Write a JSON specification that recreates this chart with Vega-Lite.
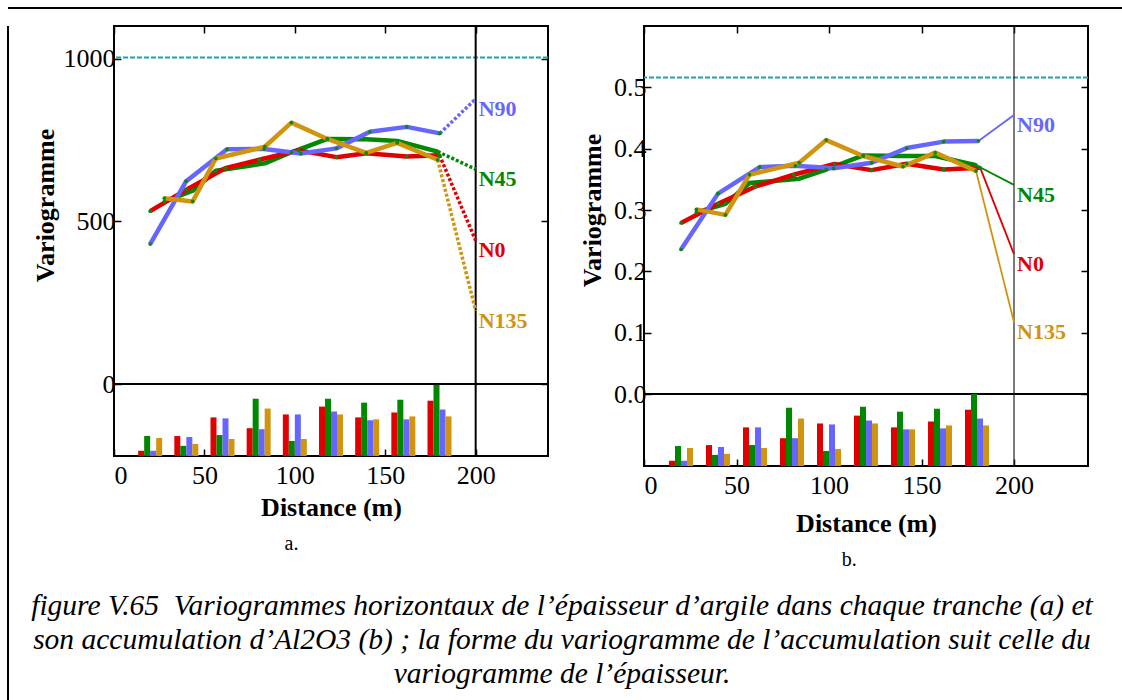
{
  "$schema": "https://vega.github.io/schema/vega-lite/v6.json",
  "padding": {"left": 7, "top": 7, "right": 0, "bottom": 0},
  "background": "white",
  "config": {
    "view": {"stroke": "black", "strokeWidth": 2},
    "font": "Liberation Serif",
    "axis": {
      "labelFont": "Liberation Serif", "labelFontSize": 26, "labelColor": "black",
      "titleFont": "Liberation Serif", "titleFontSize": 26, "titleFontWeight": "bold", "titleColor": "black",
      "grid": false, "domain": false, "tickColor": "black", "tickWidth": 1.5
    },
    "title": {"font": "Liberation Serif", "fontSize": 20, "fontWeight": "normal", "color": "black"}
  },
  "datasets": {
    "a_lines": [
      {"dir": "N45", "dist": 27.8, "g": 560}, {"dir": "N45", "dist": 43.5, "g": 594}, {"dir": "N45", "dist": 56.3, "g": 655},
      {"dir": "N45", "dist": 83.4, "g": 678}, {"dir": "N45", "dist": 98.1, "g": 712}, {"dir": "N45", "dist": 118, "g": 753},
      {"dir": "N45", "dist": 139.5, "g": 752}, {"dir": "N45", "dist": 156.6, "g": 747}, {"dir": "N45", "dist": 179, "g": 714},
      {"dir": "N0", "dist": 20, "g": 531}, {"dir": "N0", "dist": 40, "g": 597}, {"dir": "N0", "dist": 61.5, "g": 663},
      {"dir": "N0", "dist": 80.3, "g": 689}, {"dir": "N0", "dist": 102, "g": 718}, {"dir": "N0", "dist": 123, "g": 697},
      {"dir": "N0", "dist": 139.5, "g": 709}, {"dir": "N0", "dist": 161.8, "g": 699}, {"dir": "N0", "dist": 180, "g": 703},
      {"dir": "N90", "dist": 20, "g": 430}, {"dir": "N90", "dist": 39.9, "g": 623}, {"dir": "N90", "dist": 62.5, "g": 721},
      {"dir": "N90", "dist": 83, "g": 722}, {"dir": "N90", "dist": 103.3, "g": 708}, {"dir": "N90", "dist": 123, "g": 724},
      {"dir": "N90", "dist": 141.5, "g": 775}, {"dir": "N90", "dist": 161.9, "g": 790}, {"dir": "N90", "dist": 180.2, "g": 770},
      {"dir": "N135", "dist": 27.8, "g": 571}, {"dir": "N135", "dist": 43.5, "g": 561}, {"dir": "N135", "dist": 56.3, "g": 693},
      {"dir": "N135", "dist": 83.4, "g": 729}, {"dir": "N135", "dist": 98.1, "g": 803}, {"dir": "N135", "dist": 118, "g": 753},
      {"dir": "N135", "dist": 139.5, "g": 710}, {"dir": "N135", "dist": 156.6, "g": 741}, {"dir": "N135", "dist": 179, "g": 689}
    ],
    "a_ext": [
      {"dir": "N45", "dist": 179, "g": 714}, {"dir": "N45", "dist": 200, "g": 660},
      {"dir": "N0", "dist": 180, "g": 703}, {"dir": "N0", "dist": 200, "g": 441},
      {"dir": "N90", "dist": 180.2, "g": 770}, {"dir": "N90", "dist": 200, "g": 876},
      {"dir": "N135", "dist": 179, "g": 689}, {"dir": "N135", "dist": 200, "g": 225}
    ],
    "a_hist": [
      {"lag": 20, "N0": 16, "N45": 61, "N90": 16, "N135": 55},
      {"lag": 40, "N0": 61, "N45": 31, "N90": 58, "N135": 37},
      {"lag": 60, "N0": 118, "N45": 64, "N90": 115, "N135": 52},
      {"lag": 80, "N0": 85, "N45": 175, "N90": 82, "N135": 145},
      {"lag": 100, "N0": 127, "N45": 46, "N90": 127, "N135": 52},
      {"lag": 120, "N0": 151, "N45": 175, "N90": 136, "N135": 127},
      {"lag": 140, "N0": 118, "N45": 163, "N90": 109, "N135": 112},
      {"lag": 160, "N0": 133, "N45": 172, "N90": 112, "N135": 121},
      {"lag": 180, "N0": 169, "N45": 217, "N90": 142, "N135": 121}
    ],
    "b_lines": [
      {"dir": "N45", "dist": 28.3, "g": 0.296}, {"dir": "N45", "dist": 44, "g": 0.31}, {"dir": "N45", "dist": 57, "g": 0.344},
      {"dir": "N45", "dist": 83.9, "g": 0.351}, {"dir": "N45", "dist": 98.5, "g": 0.366}, {"dir": "N45", "dist": 118.5, "g": 0.389},
      {"dir": "N45", "dist": 140, "g": 0.388}, {"dir": "N45", "dist": 157.4, "g": 0.388}, {"dir": "N45", "dist": 179.5, "g": 0.373},
      {"dir": "N0", "dist": 20, "g": 0.279}, {"dir": "N0", "dist": 40, "g": 0.31}, {"dir": "N0", "dist": 60, "g": 0.338},
      {"dir": "N0", "dist": 80.9, "g": 0.3575}, {"dir": "N0", "dist": 103, "g": 0.375}, {"dir": "N0", "dist": 123, "g": 0.365},
      {"dir": "N0", "dist": 142, "g": 0.3755}, {"dir": "N0", "dist": 162, "g": 0.366}, {"dir": "N0", "dist": 181.7, "g": 0.369},
      {"dir": "N90", "dist": 20, "g": 0.2356}, {"dir": "N90", "dist": 40, "g": 0.3267}, {"dir": "N90", "dist": 62.5, "g": 0.37},
      {"dir": "N90", "dist": 81.8, "g": 0.372}, {"dir": "N90", "dist": 102.5, "g": 0.368}, {"dir": "N90", "dist": 123, "g": 0.377},
      {"dir": "N90", "dist": 142, "g": 0.401}, {"dir": "N90", "dist": 162, "g": 0.4115}, {"dir": "N90", "dist": 180.8, "g": 0.4125},
      {"dir": "N135", "dist": 28.3, "g": 0.301}, {"dir": "N135", "dist": 44, "g": 0.292}, {"dir": "N135", "dist": 57, "g": 0.3575},
      {"dir": "N135", "dist": 83.9, "g": 0.377}, {"dir": "N135", "dist": 98.5, "g": 0.414}, {"dir": "N135", "dist": 118.5, "g": 0.388},
      {"dir": "N135", "dist": 140, "g": 0.371}, {"dir": "N135", "dist": 157.4, "g": 0.3935}, {"dir": "N135", "dist": 179.5, "g": 0.3637}
    ],
    "b_ext": [
      {"dir": "N45", "dist": 179.5, "g": 0.373}, {"dir": "N45", "dist": 200, "g": 0.341},
      {"dir": "N0", "dist": 181.7, "g": 0.369}, {"dir": "N0", "dist": 200, "g": 0.228},
      {"dir": "N90", "dist": 180.8, "g": 0.4125}, {"dir": "N90", "dist": 200, "g": 0.455},
      {"dir": "N135", "dist": 179.5, "g": 0.3637}, {"dir": "N135", "dist": 200, "g": 0.117}
    ],
    "b_hist": [
      {"lag": 20, "N0": 16, "N45": 61, "N90": 16, "N135": 55},
      {"lag": 40, "N0": 64, "N45": 34, "N90": 58, "N135": 37},
      {"lag": 60, "N0": 118, "N45": 64, "N90": 118, "N135": 55},
      {"lag": 80, "N0": 85, "N45": 178, "N90": 85, "N135": 145},
      {"lag": 100, "N0": 130, "N45": 46, "N90": 127, "N135": 52},
      {"lag": 120, "N0": 154, "N45": 181, "N90": 139, "N135": 130},
      {"lag": 140, "N0": 118, "N45": 166, "N90": 112, "N135": 112},
      {"lag": 160, "N0": 136, "N45": 175, "N90": 115, "N135": 124},
      {"lag": 180, "N0": 172, "N45": 220, "N90": 145, "N135": 124}
    ]
  },
  "vconcat": [
    {
      "width": 1115, "height": 16, "view": {"stroke": null},
      "data": {"values": [{}]},
      "mark": {"type": "rule", "color": "black", "strokeWidth": 2},
      "encoding": {"y": {"datum": 1, "type": "quantitative", "scale": {"domain": [0, 1]}, "axis": null}}
    },
    {
      "hconcat": [
        {
          "width": 23, "height": 680, "view": {"stroke": null},
          "data": {"values": [{}]},
          "mark": {"type": "rule", "color": "black", "strokeWidth": 2},
          "encoding": {"x": {"datum": 0, "type": "quantitative", "scale": {"domain": [0, 1]}, "axis": null}}
        },
        {
          "vconcat": [
            {
              "hconcat": [
                {
                  "title": {"text": "a.", "orient": "bottom", "anchor": "middle", "offset": 13, "dx": 1},
                  "spacing": 0,
                  "bounds": "flush",
                  "vconcat": [
                    {
                      "width": 434, "height": 358,
                      "resolve": {"axis": {"y": "independent"}},
                      "layer": [
                        {
                          "layer": [
                            {
                              "data": {"values": [{}]},
                              "mark": {"type": "rule", "color": "#1aa3a8", "strokeWidth": 2, "strokeDash": [5, 2]},
                              "encoding": {"y": {"datum": 1003, "type": "quantitative"}}
                            },
                            {
                              "data": {"values": [{}]},
                              "mark": {"type": "rule", "color": "black", "strokeWidth": 2},
                              "encoding": {"x": {"datum": 200, "type": "quantitative"}}
                            },
                            {
                              "data": {"name": "a_lines"},
                              "mark": {"type": "line", "strokeWidth": 4.5, "strokeJoin": "round"},
                              "encoding": {
                                "x": {"field": "dist", "type": "quantitative", "scale": {"domain": [0, 240]},
                                      "axis": {"orient": "top", "values": [0, 50, 100, 150, 200], "labels": false, "tickSize": -7, "title": null}},
                                "y": {"field": "g", "type": "quantitative", "scale": {"domain": [0, 1100]},
                                      "axis": {"values": [0, 500, 1000], "format": "d", "tickSize": -7, "labelPadding": 6, "title": "Variogramme", "titlePadding": 5}},
                                "color": {"field": "dir", "type": "nominal", "legend": null,
                                          "scale": {"domain": ["N0", "N45", "N90", "N135"], "range": ["#e00000", "#008800", "#6666ff", "#d0940f"]}}
                              }
                            },
                            {
                              "data": {"name": "a_ext"},
                              "mark": {"type": "line", "strokeWidth": 3.5, "strokeDash": [3, 2]},
                              "encoding": {
                                "x": {"field": "dist", "type": "quantitative"},
                                "y": {"field": "g", "type": "quantitative"},
                                "color": {"field": "dir", "type": "nominal", "legend": null}
                              }
                            },
                            {
                              "data": {"name": "a_lines"},
                              "mark": {"type": "circle", "size": 14, "color": "#0a8a0a", "opacity": 1},
                              "encoding": {
                                "x": {"field": "dist", "type": "quantitative"},
                                "y": {"field": "g", "type": "quantitative"}
                              }
                            },
                            {
                              "data": {"name": "a_ext"},
                              "transform": [{"filter": "datum.dist == 200"}],
                              "mark": {"type": "text", "align": "left", "baseline": "middle", "dx": 3, "dy": 10, "fontSize": 22, "fontWeight": "bold", "font": "Liberation Serif"},
                              "encoding": {
                                "x": {"field": "dist", "type": "quantitative"},
                                "y": {"field": "g", "type": "quantitative"},
                                "text": {"field": "dir"},
                                "color": {"field": "dir", "type": "nominal", "legend": null}
                              }
                            }
                          ]
                        },
                        {
                          "data": {"values": []},
                          "mark": "point",
                          "encoding": {"y": {"field": "g", "type": "quantitative",
                            "axis": {"orient": "right", "values": [0, 500, 1000], "labels": false, "tickSize": -7, "title": null}}}
                        }
                      ]
                    },
                    {
                      "width": 434, "height": 72,
                      "data": {"name": "a_hist"},
                      "layer": [
                        {
                          "mark": {"type": "bar", "orient": "vertical", "width": 6, "xOffset": -9, "color": "#e00000"},
                          "encoding": {
                            "x": {"field": "lag", "type": "quantitative", "scale": {"domain": [0, 240], "padding": 0, "nice": false},
                                  "axis": {"values": [0, 50, 100, 150, 200], "tickSize": -7, "labelPadding": 13, "title": "Distance (m)", "titlePadding": 6}},
                            "y": {"field": "N0", "type": "quantitative", "scale": {"domain": [0, 217]}, "axis": null}
                          }
                        },
                        {
                          "mark": {"type": "bar", "orient": "vertical", "width": 6, "xOffset": -3, "color": "#008800"},
                          "encoding": {"x": {"field": "lag", "type": "quantitative"}, "y": {"field": "N45", "type": "quantitative", "axis": null}}
                        },
                        {
                          "mark": {"type": "bar", "orient": "vertical", "width": 6, "xOffset": 3, "color": "#6666ff"},
                          "encoding": {"x": {"field": "lag", "type": "quantitative"}, "y": {"field": "N90", "type": "quantitative", "axis": null}}
                        },
                        {
                          "mark": {"type": "bar", "orient": "vertical", "width": 6, "xOffset": 9, "color": "#d0940f"},
                          "encoding": {"x": {"field": "lag", "type": "quantitative"}, "y": {"field": "N135", "type": "quantitative", "axis": null}}
                        },
                        {
                          "data": {"values": [{}]},
                          "mark": {"type": "rule", "color": "black", "strokeWidth": 2},
                          "encoding": {"x": {"datum": 200, "type": "quantitative"}}
                        }
                      ]
                    }
                  ]
                },
                {
                  "title": {"text": "b.", "orient": "bottom", "anchor": "middle", "offset": 13, "dx": 15},
                  "spacing": 0,
                  "bounds": "flush",
                  "vconcat": [
                    {
                      "width": 444, "height": 368,
                      "resolve": {"axis": {"y": "independent"}},
                      "layer": [
                        {
                          "layer": [
                            {
                              "data": {"values": [{}]},
                              "mark": {"type": "rule", "color": "#1aa3a8", "strokeWidth": 2, "strokeDash": [5, 2]},
                              "encoding": {"y": {"datum": 0.516, "type": "quantitative"}}
                            },
                            {
                              "data": {"values": [{}]},
                              "mark": {"type": "rule", "color": "#222222", "strokeWidth": 1.2},
                              "encoding": {"x": {"datum": 200, "type": "quantitative"}}
                            },
                            {
                              "data": {"name": "b_lines"},
                              "mark": {"type": "line", "strokeWidth": 4.5, "strokeJoin": "round"},
                              "encoding": {
                                "x": {"field": "dist", "type": "quantitative", "scale": {"domain": [0, 240]},
                                      "axis": {"orient": "top", "values": [0, 50, 100, 150, 200], "labels": false, "tickSize": -7, "title": null}},
                                "y": {"field": "g", "type": "quantitative", "scale": {"domain": [0, 0.566]},
                                      "axis": {"values": [0, 0.1, 0.2, 0.3, 0.4, 0.5], "format": ".1f", "tickSize": -7, "labelPadding": 5, "title": "Variogramme", "titlePadding": 8}},
                                "color": {"field": "dir", "type": "nominal", "legend": null,
                                          "scale": {"domain": ["N0", "N45", "N90", "N135"], "range": ["#e00000", "#008800", "#6666ff", "#d0940f"]}}
                              }
                            },
                            {
                              "data": {"name": "b_ext"},
                              "mark": {"type": "line", "strokeWidth": 1.8},
                              "encoding": {
                                "x": {"field": "dist", "type": "quantitative"},
                                "y": {"field": "g", "type": "quantitative"},
                                "color": {"field": "dir", "type": "nominal", "legend": null}
                              }
                            },
                            {
                              "data": {"name": "b_lines"},
                              "mark": {"type": "circle", "size": 14, "color": "#0a8a0a", "opacity": 1},
                              "encoding": {
                                "x": {"field": "dist", "type": "quantitative"},
                                "y": {"field": "g", "type": "quantitative"}
                              }
                            },
                            {
                              "data": {"name": "b_ext"},
                              "transform": [{"filter": "datum.dist == 200"}],
                              "mark": {"type": "text", "align": "left", "baseline": "middle", "dx": 3, "dy": 10, "fontSize": 22, "fontWeight": "bold", "font": "Liberation Serif"},
                              "encoding": {
                                "x": {"field": "dist", "type": "quantitative"},
                                "y": {"field": "g", "type": "quantitative"},
                                "text": {"field": "dir"},
                                "color": {"field": "dir", "type": "nominal", "legend": null}
                              }
                            }
                          ]
                        },
                        {
                          "data": {"values": []},
                          "mark": "point",
                          "encoding": {"y": {"field": "g", "type": "quantitative",
                            "axis": {"orient": "right", "values": [0, 0.1, 0.2, 0.3, 0.4, 0.5], "labels": false, "tickSize": -7, "title": null}}}
                        }
                      ]
                    },
                    {
                      "width": 444, "height": 72,
                      "data": {"name": "b_hist"},
                      "layer": [
                        {
                          "mark": {"type": "bar", "orient": "vertical", "width": 6, "xOffset": -9, "color": "#e00000"},
                          "encoding": {
                            "x": {"field": "lag", "type": "quantitative", "scale": {"domain": [0, 240], "padding": 0, "nice": false},
                                  "axis": {"values": [0, 50, 100, 150, 200], "tickSize": -7, "labelPadding": 13, "title": "Distance (m)", "titlePadding": 12}},
                            "y": {"field": "N0", "type": "quantitative", "scale": {"domain": [0, 220]}, "axis": null}
                          }
                        },
                        {
                          "mark": {"type": "bar", "orient": "vertical", "width": 6, "xOffset": -3, "color": "#008800"},
                          "encoding": {"x": {"field": "lag", "type": "quantitative"}, "y": {"field": "N45", "type": "quantitative", "axis": null}}
                        },
                        {
                          "mark": {"type": "bar", "orient": "vertical", "width": 6, "xOffset": 3, "color": "#6666ff"},
                          "encoding": {"x": {"field": "lag", "type": "quantitative"}, "y": {"field": "N90", "type": "quantitative", "axis": null}}
                        },
                        {
                          "mark": {"type": "bar", "orient": "vertical", "width": 6, "xOffset": 9, "color": "#d0940f"},
                          "encoding": {"x": {"field": "lag", "type": "quantitative"}, "y": {"field": "N135", "type": "quantitative", "axis": null}}
                        },
                        {
                          "data": {"values": [{}]},
                          "mark": {"type": "rule", "color": "#222222", "strokeWidth": 1.2},
                          "encoding": {"x": {"datum": 200, "type": "quantitative"}}
                        }
                      ]
                    }
                  ]
                }
              ],
              "spacing": 28
            },
            {
              "width": 896, "height": 102, "view": {"stroke": null},
              "data": {"values": [
                {"i": 1, "t": "figure V.65\u00a0 Variogrammes horizontaux de l’épaisseur d’argile dans chaque tranche (a) et"},
                {"i": 2, "t": "son accumulation d’Al2O3 (b) ; la forme du variogramme de l’accumulation suit celle du"},
                {"i": 3, "t": "variogramme de l’épaisseur."}
              ]},
              "mark": {"type": "text", "font": "Liberation Serif", "fontStyle": "italic", "fontSize": 29.5, "color": "black"},
              "encoding": {
                "y": {"field": "i", "type": "ordinal", "axis": null},
                "text": {"field": "t"}
              }
            }
          ],
          "spacing": 19
        }
      ],
      "spacing": 0
    }
  ],
  "spacing": 0
}
